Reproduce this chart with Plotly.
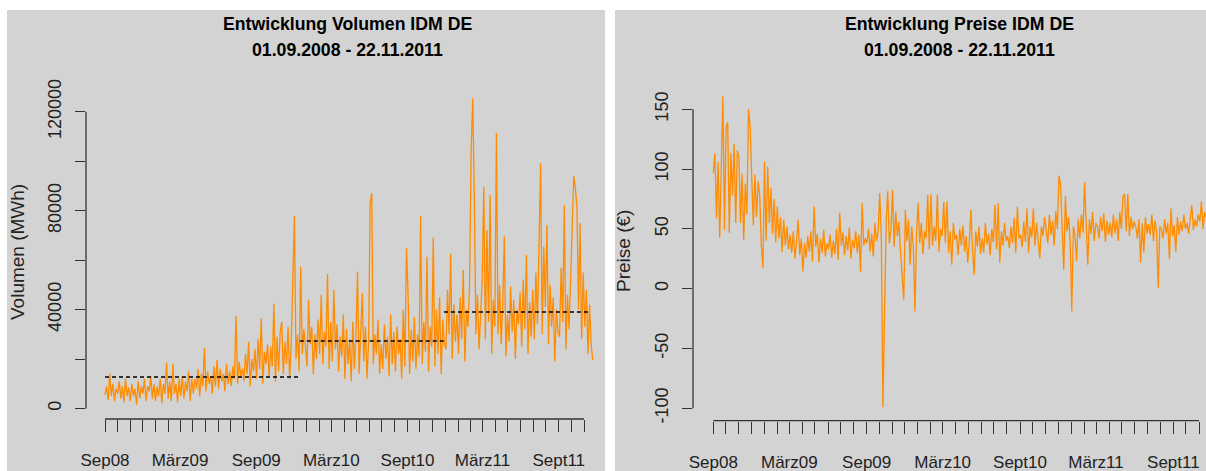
import pandas as pd
import plotly.graph_objects as go

# ---------------- data ----------------
start_date = "2008-09-01"
end_date = "2011-11-22"

# Volumen IDM DE, in thousand MWh, ~8 readings per month (Sep08 ... Nov11)
volumen_tsd = [
    5.5, 9, 3.5, 14, 5, 10, 3, 8,            # Sep08
    6, 11, 4, 9, 2.5, 12, 5, 8.5,            # Okt08
    3, 10, 5, 8, 1.5, 11, 4, 9,              # Nov08
    6, 12, 3, 9, 7, 13, 4, 10,               # Dez08
    3, 9, 5, 12, 2, 10, 6, 18.5,             # Jan09
    4, 11, 3, 18, 6, 10, 2.5, 12,            # Feb09
    5, 13, 4, 11, 7, 15, 3, 12,              # Mrz09
    6, 12, 8, 16, 5, 14, 9, 24.5,            # Apr09
    7, 15, 10, 13, 6, 17, 9, 19.6,           # Mai09
    8, 16, 11, 14, 7, 18, 10, 15,            # Jun09
    9, 17, 12, 37.4, 10, 19, 13, 16,         # Jul09
    11, 22, 14, 27, 9, 20, 15, 24,           # Aug09
    12, 28, 16, 36.6, 10, 23, 18, 26,        # Sep09
    13, 25, 17, 42.3, 11, 29, 15, 31,        # Okt09
    35, 14, 27, 18, 33, 12, 26, 51.3,        # Nov09
    77.8, 20, 30, 15, 57.3, 22, 32, 25,      # Dez09
    17, 44, 26, 33, 14, 30, 20, 36,          # Jan10
    22, 46, 18, 31, 25, 54.4, 16, 35,        # Feb10
    19, 48, 24, 34, 15, 29, 21, 38,          # Mrz10
    12, 32, 18, 28, 11, 35, 16, 30,          # Apr10
    55.3, 14, 31, 46.7, 19, 33, 12, 27,      # Mai10
    83.1, 87.1, 18, 30, 22, 36, 14, 26,      # Jun10
    16, 34, 20, 29, 13, 38, 18, 31,          # Jul10
    15, 33, 22, 28, 12, 40, 17, 64.9,        # Aug10
    46.8, 14, 32, 19, 37, 16, 30, 21,        # Sep10
    77.8, 18, 35, 23, 61.4, 15, 33, 25,      # Okt10
    69, 17, 40, 22, 45, 14, 36, 26,          # Nov10
    24, 48, 30, 62.7, 20, 42, 27, 38,        # Dez10
    22, 45, 28, 56, 19, 40, 33, 50,          # Jan11
    104.5, 125.4, 85.1, 30, 46, 24, 38, 52,  # Feb11
    89.7, 28, 72.2, 35, 86.3, 22, 44, 33,    # Mrz11
    111.4, 30, 50, 26, 42, 69.5, 21, 38,     # Apr11
    27, 49.3, 31, 44, 20, 40, 34, 47,        # Mai11
    25, 52, 32, 62.1, 22, 43, 29, 48,        # Jun11
    28, 55, 34, 64.1, 99.2, 30, 65.4, 41,    # Jul11
    74.2, 26, 50, 33, 45, 19, 40, 31,        # Aug11
    29, 57, 35, 82.3, 24, 46, 32, 52,        # Sep11
    77.6, 94, 89.2, 81.6, 40, 75, 28, 55,    # Okt11
    33, 48, 22, 42, 26, 19.6,                # Nov11
]

# Preise IDM DE in EUR, same sampling
preise = [
    96.7, 113, 59, 106, 42.6, 95, 160.8, 49.3,     # Sep08
    135.7, 139, 46.8, 113.4, 78, 121.2, 55, 115.6, # Okt08
    110, 55, 96, 41, 88, 62, 150.2, 135.7,         # Nov08
    96, 53, 95.3, 60, 89.7, 78.6, 36.8, 17.6,      # Dez08
    106.4, 40, 102, 55, 84.2, 46, 75, 39,          # Jan09
    68.8, 42, 60, 31, 57.7, 36, 52, 33,            # Feb09
    45, 30, 48, 25, 40, 57.7, 28, 42,              # Mrz09
    14.5, 38, 26, 44, 31, 48, 22.6, 68.8,          # Apr09
    35, 46, 22, 42, 30, 49, 27, 38,                # Mai09
    33, 45, 26, 40, 29, 50, 24, 63.5,              # Jun09
    36, 47, 28, 44, 32, 51, 25, 41,                # Jul09
    34, 48, 30, 45, 14, 71.6, 36, 42,              # Aug09
    38, 50, 31, 46, 27, 55, 40, 48,                # Sep09
    80, 42, -99.2, -7.8, 55, 81.5, 38, 50,         # Okt09
    82.8, 35, 64.6, 44, 56, 30, 9, -9.2,           # Nov09
    66, 40, 58, 20, 52, 35, -19, 46,               # Dez09
    71.9, 38, 55, 29, 48, 42, 78.6, 33,            # Jan10
    79, 36, 52, 40, 78.6, 31, 50, 44,              # Feb10
    72.5, 38, 73, 30, 48, 20, 55, 41,              # Mrz10
    45, 28, 50, 36, 53, 31, 44, 21.7,              # Apr10
    40, 66, 32, 11.7, 48, 35, 52, 29,              # Mai10
    42, 30, 55, 37, 46, 28, 50, 39,                # Jun10
    70, 33, 71.6, 21.7, 48, 36, 55, 40,            # Jul10
    44, 34, 52, 38, 59, 30, 68.8, 42,              # Aug10
    45, 35, 56, 39, 67, 30, 52, 43,                # Sep10
    67, 36, 55, 40, 25.6, 52, 44, 60,              # Okt10
    48, 38, 62, 45, 57, 36, 65, 50,                # Nov10
    94.5, 87, 50, 15.9, 77.2, 48, 60, 40,          # Dez10
    -19, 52, 45, 23, 58, 42, 62, 47,               # Jan11
    88.9, 50, 20, 58, 46, 64, 40, 55,              # Feb11
    52, 42, 60, 48, 63, 39, 57, 45,                # Mrz11
    55, 43, 62, 46, 58, 40, 64, 50,                # Apr11
    77.2, 79, 48, 79.2, 44, 60, 50, 56,            # Mai11
    52, 42, 58, 21.7, 55, 30, 60, 46,              # Jun11
    54, 45, 62, 40, 57, 48, 0.6, 52,               # Jul11
    50, 42, 58, 46, 55, 24.7, 67, 44,              # Aug11
    53, 31, 60, 45, 56, 48, 62, 50,                # Sep11
    55, 46, 60, 70, 49, 58, 52, 62,                # Okt11
    56, 73, 50, 64, 60, 73.5,                      # Nov11
]

# dashed mean levels of the volume (MWh)
seg_start = ["2008-09-01", "2009-12-15", "2010-11-28"]
seg_end = ["2009-12-15", "2010-11-28", "2011-11-12"]
seg_mean = [12700, 27300, 39000]

# month ticks and their labels
month_ticks = pd.date_range("2008-09-01", "2011-11-01", freq="MS")
label_map = {"2008-09": "Sep08", "2009-03": "März09", "2009-09": "Sep09",
             "2010-03": "März10", "2010-09": "Sept10", "2011-03": "März11",
             "2011-09": "Sept11"}
month_text = [label_map.get(d.strftime("%Y-%m"), "") for d in month_ticks]

vol_ticks = [0, 20000, 40000, 60000, 80000, 100000, 120000]
vol_tick_text = ["0", "", "40000", "", "80000", "", "120000"]
preis_ticks = [-100, -50, 0, 50, 100, 150]

# ---------------- figure ----------------
W, H = 1206, 471
volumen = [v * 1000 for v in volumen_tsd]
x_vol = pd.date_range(start_date, end_date, periods=len(volumen))
x_pr = pd.date_range(start_date, end_date, periods=len(preise))

ORANGE = "#FF8C00"
GREY = "#D3D3D3"
AX = "#333333"
FONT = "Liberation Sans, Arial, sans-serif"

fig = go.Figure()
fig.add_trace(go.Scatter(x=x_vol, y=volumen, mode="lines",
                         line=dict(color=ORANGE, width=1.3),
                         xaxis="x", yaxis="y", showlegend=False))
for s, e, m in zip(seg_start, seg_end, seg_mean):
    fig.add_trace(go.Scatter(x=[s, e], y=[m, m], mode="lines",
                             line=dict(color="black", width=1.5, dash="4px,3px"),
                             xaxis="x", yaxis="y", showlegend=False))
fig.add_trace(go.Scatter(x=x_pr, y=preise, mode="lines",
                         line=dict(color=ORANGE, width=1.3),
                         xaxis="x2", yaxis="y2", showlegend=False))


def px_x(p):
    return p / W


def px_y(p):
    return 1 - p / H


# pixel -> date mapping for the ranges
t0 = pd.Timestamp("2008-09-01")
left_ppd = (584 - 105) / 1156.0
right_ppd = (1199 - 713.3) / 1156.0
x1_range = [t0 + pd.Timedelta(days=(86 - 105) / left_ppd),
            t0 + pd.Timedelta(days=(605 - 105) / left_ppd)]
x2_range = [t0 + pd.Timedelta(days=(693 - 713.3) / right_ppd),
            t0 + pd.Timedelta(days=(1206 - 713.3) / right_ppd)]

vpp = 120000 / (408.5 - 111.7)   # value per pixel (left)
y1_range = [-(419 - 408.5) * vpp, (408.5 - 95) * vpp]
ppp = 250 / (408.3 - 109.3)      # value per pixel (right)
zero_r = 408.3 - 100 / ppp
y2_range = [-(420.7 - zero_r) * ppp, (zero_r - 88) * ppp]

tickfont = dict(family=FONT, size=17, color="#222222")
ytickfont = dict(family=FONT, size=18, color="#222222")

common_x = dict(type="date", showgrid=False, zeroline=False, showline=False,
                automargin=False, ticks="outside", ticklen=12, tickwidth=1.3,
                tickcolor=AX, tickvals=list(month_ticks), ticktext=month_text,
                tickangle=0, tickfont=tickfont, ticklabelstandoff=14)
common_y = dict(showgrid=False, zeroline=False, showline=False,
                automargin=False, ticks="outside", ticklen=10, tickwidth=1.3,
                tickcolor=AX, tickangle=-90, tickfont=ytickfont,
                ticklabelstandoff=7)

fig.update_layout(
    template="none",
    width=W, height=H,
    margin=dict(l=0, r=0, t=0, b=0, pad=0, autoexpand=False),
    paper_bgcolor="white", plot_bgcolor="rgba(0,0,0,0)",
    font=dict(family=FONT),
    showlegend=False,
    xaxis=dict(domain=[px_x(86), px_x(605)], range=x1_range, anchor="y", **common_x),
    yaxis=dict(domain=[px_y(419), px_y(95)], range=y1_range, anchor="x",
               tickvals=vol_ticks, ticktext=vol_tick_text, **common_y),
    xaxis2=dict(domain=[px_x(693), 1.0], range=x2_range, anchor="y2", **common_x),
    yaxis2=dict(domain=[px_y(420.7), px_y(88)], range=y2_range, anchor="x2",
                tickvals=preis_ticks, ticktext=[str(t) for t in preis_ticks], **common_y),
)

shapes = [
    dict(type="rect", xref="paper", yref="paper", x0=px_x(7), x1=px_x(605),
         y0=0, y1=px_y(10), fillcolor=GREY, line=dict(width=0), layer="below"),
    dict(type="rect", xref="paper", yref="paper", x0=px_x(615), x1=1,
         y0=0, y1=px_y(10), fillcolor=GREY, line=dict(width=0), layer="below"),
    # R-style axis lines spanning only the tick range
    dict(type="line", xref="x domain", yref="y", x0=0, x1=0, y0=vol_ticks[0], y1=vol_ticks[-1],
         line=dict(color=AX, width=1.3)),
    dict(type="line", xref="x", yref="y domain", x0=month_ticks[0], x1=month_ticks[-1], y0=0, y1=0,
         line=dict(color=AX, width=1.3)),
    dict(type="line", xref="x2 domain", yref="y2", x0=0, x1=0, y0=preis_ticks[0], y1=preis_ticks[-1],
         line=dict(color=AX, width=1.3)),
    dict(type="line", xref="x2", yref="y2 domain", x0=month_ticks[0], x1=month_ticks[-1], y0=0, y1=0,
         line=dict(color=AX, width=1.3)),
]
fig.update_layout(shapes=shapes)

title_font = dict(family=FONT, size=17.7, color="black")
annos = [
    dict(text="<b>Entwicklung Volumen IDM DE</b>", x=px_x(347), y=px_y(24)),
    dict(text="<b>01.09.2008 - 22.11.2011</b>", x=px_x(347), y=px_y(50.5)),
    dict(text="<b>Entwicklung Preise IDM DE</b>", x=px_x(959), y=px_y(24)),
    dict(text="<b>01.09.2008 - 22.11.2011</b>", x=px_x(959), y=px_y(50.5)),
]
for a in annos:
    fig.add_annotation(xref="paper", yref="paper", showarrow=False,
                       xanchor="center", yanchor="middle", font=title_font, **a)

axis_title_font = dict(family=FONT, size=19, color="#222222")
fig.add_annotation(text="Volumen (MWh)", xref="paper", yref="paper",
                   x=px_x(17), y=px_y(252), textangle=-90, showarrow=False,
                   xanchor="center", yanchor="middle", font=axis_title_font)
fig.add_annotation(text="Preise (€)", xref="paper", yref="paper",
                   x=px_x(623), y=px_y(251), textangle=-90, showarrow=False,
                   xanchor="center", yanchor="middle", font=axis_title_font)

# remove the page's default body margin so the figure sits at the window origin
fig.write_html(
    "out.html",
    config={"displayModeBar": False},
    post_script="document.body.style.margin='0px';"
                "document.documentElement.style.overflow='hidden';",
)
